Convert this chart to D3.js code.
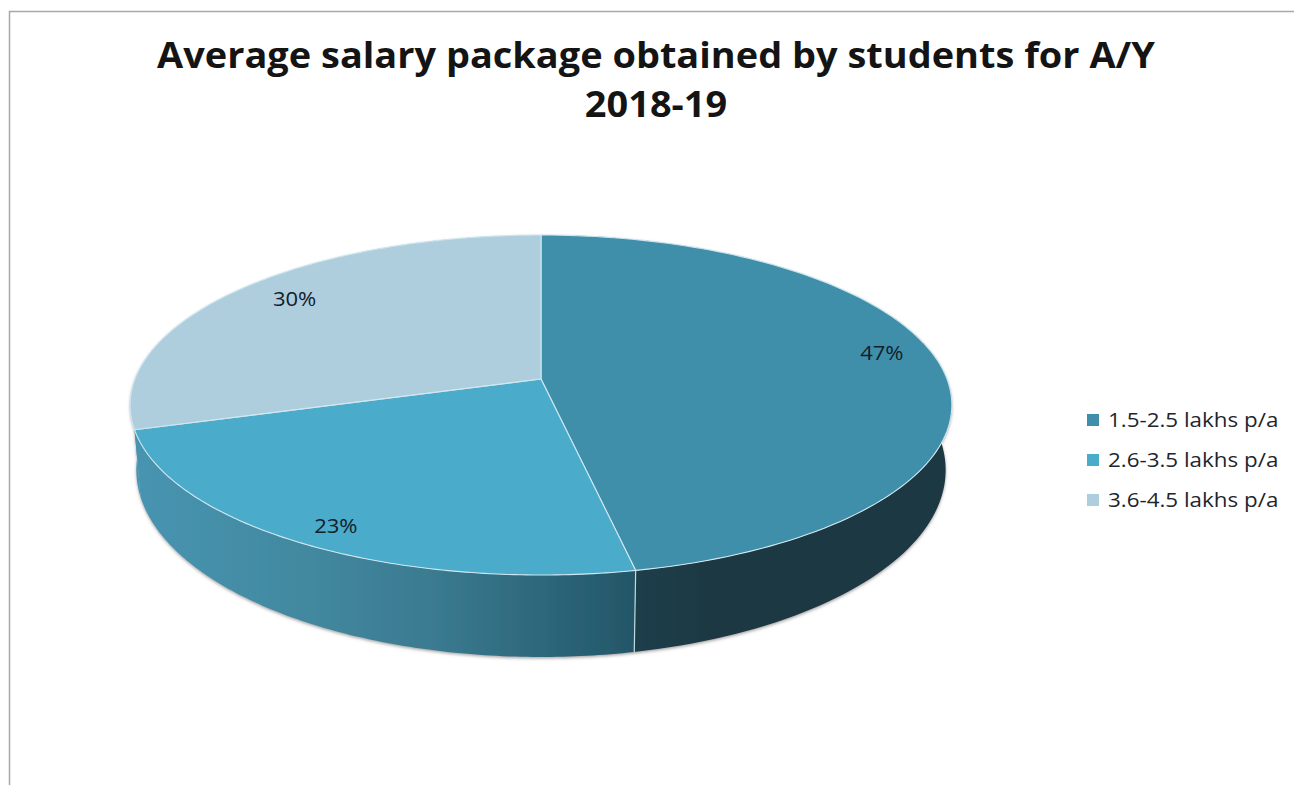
<!DOCTYPE html>
<html><head><meta charset="utf-8">
<script src="https://cdn.jsdelivr.net/npm/d3@7"></script>
<style>html,body{margin:0;padding:0;background:#fff;overflow:hidden}svg{display:block}</style>
</head><body><svg id="c" width="1294" height="785"></svg>
<script>
const categories = ["1.5-2.5 lakhs p/a", "2.6-3.5 lakhs p/a", "3.6-4.5 lakhs p/a"];
const values = [47, 23, 30];
const titleLines = ["Average salary package obtained by students for A/Y", "2018-19"];
const topColors = ["#3f8fab", "#4babca", "#aecddd"];

const svg = d3.select("#c");
const fontText = "'Open Sans', sans-serif";

// frame
svg.append("path").attr("d", "M9.5,785V11.5H1294").attr("fill", "none").attr("stroke", "#a8a8a8").attr("stroke-width", 1.5);

// title
svg.append("g").selectAll("text").data(titleLines).join("text")
  .attr("transform", (d, i) => `translate(656,${67.5 + i * 49}) scale(1.084,1)`)
  .attr("text-anchor", "middle").attr("font-family", fontText).attr("font-weight", 700)
  .attr("font-size", 35).attr("fill", "#141414").text(d => d);

// perspective projection of the unit disc
const cx = 541, cy = 379, k = 0.153, a = 166, b = 406, warp = 0.03;
const bottomScaleX = 0.985, bottomScaleY = 1.1, depth = 62.4;
const sU = d3.scaleLinear().domain([0, 1]).range([0, b]);
const sV = d3.scaleLinear().domain([0, 1]).range([0, a]);
function project(angle, r = 1) {
  const t = angle + warp * Math.sin(2 * angle);
  const u = r * Math.sin(t), v = -r * Math.cos(t), s = 1 / (1 - k * v);
  return [cx + sU(u) * s, cy + sV(v) * s];
}
const lower = p => [cx + (p[0] - cx) * bottomScaleX, cy + (p[1] - cy) * bottomScaleY + depth];
const line = d3.line();
const pie = d3.pie().sort(null)(values);
const arcPts = d => d3.range(0, 121).map(i => project(d.startAngle + (d.endAngle - d.startAngle) * i / 120));

// defs
const defs = svg.append("defs");
const f = defs.append("filter").attr("id", "sh").attr("x", "-5%").attr("y", "-5%").attr("width", "110%").attr("height", "115%");
f.append("feDropShadow").attr("dx", 0).attr("dy", 1.5).attr("stdDeviation", 1.5).attr("flood-color", "#6a6a6a").attr("flood-opacity", 0.6);
const g1 = defs.append("linearGradient").attr("id", "w2").attr("gradientUnits", "userSpaceOnUse")
  .attr("x1", 136).attr("x2", 636).attr("y1", 0).attr("y2", 0);
[[0, "#4794b1"], [0.35, "#42889f"], [0.6, "#3a7a90"], [0.8, "#2e687c"], [1, "#235667"]].forEach(s => g1.append("stop").attr("offset", s[0]).attr("stop-color", s[1]));
const g2 = defs.append("linearGradient").attr("id", "w1").attr("gradientUnits", "userSpaceOnUse")
  .attr("x1", 636).attr("x2", 950).attr("y1", 0).attr("y2", 0);
[[0, "#1e3f4a"], [0.25, "#1b3842"], [1, "#1b3842"]].forEach(s => g2.append("stop").attr("offset", s[0]).attr("stop-color", s[1]));
const wallFill = ["url(#w1)", "url(#w2)", "#4794b1"];

// walls
const walls = svg.append("g").attr("filter", "url(#sh)");
walls.selectAll("path").data(pie).join("path")
  .attr("d", d => { const t = arcPts(d); return line(t.concat(t.map(lower).reverse())) + "Z"; })
  .attr("fill", (d, i) => wallFill[i]);
// seam between first and second wall
walls.append("path")
  .attr("d", () => { const p = project(pie[0].endAngle); return line([p, lower(p)]); })
  .attr("stroke", "#c3d9e0").attr("stroke-width", 1.2).attr("fill", "none");

// top faces
svg.append("g").selectAll("path").data(pie).join("path")
  .attr("d", d => line([[cx, cy]].concat(arcPts(d))) + "Z")
  .attr("fill", (d, i) => topColors[i])
  .attr("stroke", "#cfe8f0").attr("stroke-width", 1.1).attr("stroke-linejoin", "round");

// data labels
const labelNudge = [[1, -14], [1, 13], [19, -6]];
svg.append("g").selectAll("text").data(pie).join("text")
  .attr("transform", (d, i) => {
    const p = project((d.startAngle + d.endAngle) / 2, 0.85);
    return `translate(${p[0] + labelNudge[i][0]},${p[1] + labelNudge[i][1] + 7}) scale(1.1,1)`;
  })
  .attr("text-anchor", "middle").attr("font-family", fontText).attr("font-size", 20)
  .attr("fill", "#12202a").text(d => d.data + "%");

// legend
const ly = d3.scalePoint().domain(categories).range([420, 500]);
const leg = svg.append("g").selectAll("g").data(categories).join("g");
leg.append("rect").attr("x", 1087).attr("y", d => ly(d) - 6).attr("width", 12).attr("height", 12)
  .attr("fill", (d, i) => topColors[i]);
leg.append("text").attr("transform", d => `translate(1108,${ly(d) + 7}) scale(1.12,1)`)
  .attr("font-family", fontText).attr("font-size", 20).attr("fill", "#1e252b").text(d => d);
</script></body></html>
